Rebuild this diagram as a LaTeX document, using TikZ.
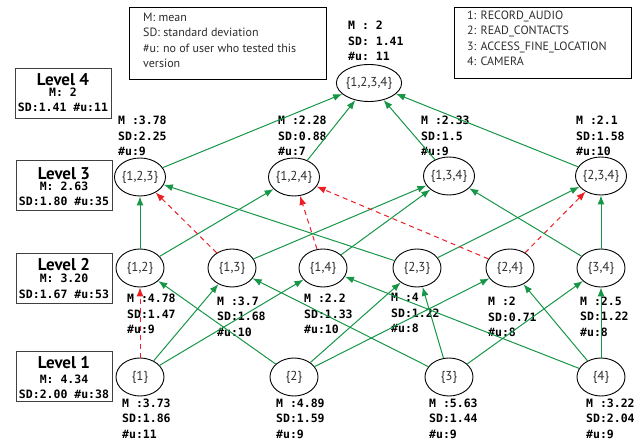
\documentclass[tikz,border=0pt]{standalone}
\usepackage{fontspec}
\setmainfont{PT Sans}
\setmonofont{DejaVu Sans Mono}
\usetikzlibrary{arrows.meta,shapes.geometric}
\definecolor{ggreen}{RGB}{22,150,70}
\definecolor{rred}{RGB}{235,30,35}
\definecolor{tgray}{RGB}{45,45,45}
\tikzset{
  setnode/.style={ellipse, draw=black, line width=0.9pt, minimum width=48pt, minimum height=38pt, inner sep=0pt, text=tgray, font=\fontsize{13}{13}\selectfont},
  topnode/.style={setnode, minimum width=65pt, minimum height=37pt},
  stats/.style={anchor=base west, yshift=-31pt, inner sep=0pt, align=left, font=\ttfamily\bfseries\fontsize{11.5}{15.5}\selectfont},
  legbox/.style={draw=black, line width=0.9pt, anchor=north west, inner sep=0pt},
  legtext/.style={anchor=base west, yshift=-46.5pt, inner sep=0pt, align=left, font=\fontsize{12}{15.5}\selectfont, text=tgray},
  lvlbox/.style={draw=black!75, line width=1.3pt, anchor=north west, inner sep=0pt, minimum width=96pt, minimum height=50pt},
  lvltitle/.style={anchor=base, inner sep=0pt, font=\bfseries\fontsize{17}{17}\selectfont},
  lvlstat/.style={anchor=base, inner sep=0pt, font=\ttfamily\bfseries\fontsize{11.5}{11.5}\selectfont},
  ge/.style={draw=ggreen, line width=1pt, -{Latex[length=9pt,width=7pt]}},
  re/.style={draw=rred, line width=1pt, dash pattern=on 5pt off 4pt, -{Latex[length=9pt,width=7pt]}}
}
\begin{document}
\begin{tikzpicture}[x=1pt,y=-1pt]
\useasboundingbox (0,0) rectangle (634,443);
% legends
\node[legbox, minimum width=197pt, minimum height=72pt] (leg1) at (129,7) {};
\node[legtext] (leg1t) at (143,21.5) {M: mean\\SD: standard deviation\\\#u: no of user who tested this\\version};
\node[legbox, minimum width=177pt, minimum height=71pt] (leg2) at (454,7) {};
\node[legtext] (leg2t) at (467,19.5) {1: RECORD\_AUDIO\\2: READ\_CONTACTS\\3: ACCESS\_FINE\_LOCATION\\4: CAMERA};
% level boxes
\node[lvlbox] (L4) at (15,68) {};
\node[lvltitle] (L4a) at (63,85.5) {Level 4};
\node[lvlstat] (L4b) at (63,97) {M: 2};
\node[lvlstat] (L4c) at (63,112) {SD:1.41 \#u:11};
\node[lvlbox] (L3) at (16,160) {};
\node[lvltitle] (L3a) at (64,179.5) {Level 3};
\node[lvlstat] (L3b) at (64,191) {M: 2.63};
\node[lvlstat] (L3c) at (64,206) {SD:1.80 \#u:35};
\node[lvlbox] (L2) at (16,253) {};
\node[lvltitle] (L2a) at (64,270.5) {Level 2};
\node[lvlstat] (L2b) at (64,283) {M: 3.20};
\node[lvlstat] (L2c) at (64,299) {SD:1.67 \#u:53};
\node[lvlbox] (L1) at (16,351) {};
\node[lvltitle] (L1a) at (64,368.5) {Level 1};
\node[lvlstat] (L1b) at (64,383) {M: 4.34};
\node[lvlstat] (L1c) at (64,398) {SD:2.00 \#u:38};
% set nodes
\node[topnode] (n1234) at (369,83) {\{1,2,3,4\}};
\node[setnode] (n123) at (140,177) {\{1,2,3\}};
\node[setnode] (n124) at (294,177) {\{1,2,4\}};
\node[setnode] (n134) at (449,176) {\{1,3,4\}};
\node[setnode] (n234) at (601,176) {\{2,3,4\}};
\node[setnode] (n12) at (140,268) {\{1,2\}};
\node[setnode] (n13) at (232,268) {\{1,3\}};
\node[setnode] (n14) at (323,268) {\{1,4\}};
\node[setnode] (n23) at (417,268) {\{2,3\}};
\node[setnode] (n24) at (510,268) {\{2,4\}};
\node[setnode] (n34) at (601,268) {\{3,4\}};
\node[setnode] (n1) at (140,377) {\{1\}};
\node[setnode] (n2) at (294,377) {\{2\}};
\node[setnode] (n3) at (449,377) {\{3\}};
\node[setnode] (n4) at (601,377) {\{4\}};
% stats
\node[stats] (s1234) at (348,30) {M : 2\\SD: 1.41\\\#u: 11};
\node[stats] (s123) at (118,125) {M :3.78\\SD:2.25\\\#u:9};
\node[stats] (s124) at (278,125) {M :2.28\\SD:0.88\\\#u:7};
\node[stats] (s134) at (421,125) {M :2.33\\SD:1.5\\\#u:9};
\node[stats] (s234) at (576,125) {M :2.1\\SD:1.58\\\#u:10};
\node[stats] (s12) at (127,303) {M :4.78\\SD:1.47\\\#u:9};
\node[stats] (s13) at (217,305) {M :3.7\\SD:1.68\\\#u:10};
\node[stats] (s14) at (304,303) {M :2.2\\SD:1.33\\\#u:10};
\node[stats] (s23) at (391,302) {M :4\\SD:1.22\\\#u:8};
\node[stats] (s24) at (488,306) {M :2\\SD:0.71\\\#u:8};
\node[stats] (s34) at (580,305) {M :2.5\\SD:1.22\\\#u:8};
\node[stats] (s1) at (122,407) {M :3.73\\SD:1.86\\\#u:11};
\node[stats] (s2) at (276,407) {M :4.89\\SD:1.59\\\#u:9};
\node[stats] (s3) at (429,407) {M :5.63\\SD:1.44\\\#u:9};
\node[stats] (s4) at (586,407) {M :3.22\\SD:2.04\\\#u:9};
% level 1 -> level 2
\draw[re] (n1) -- (n12);
\draw[ge] (n1) -- (n13);
\draw[ge] (n1) -- (n14);
\draw[ge] (n2) -- (n12);
\draw[ge] (n2) -- (n23);
\draw[ge] (n2) -- (n24);
\draw[ge] (n3) -- (n13);
\draw[ge] (n3) -- (n23);
\draw[ge] (n3) -- (n34);
\draw[ge] (n4) -- (n14);
\draw[ge] (n4) -- (n24);
\draw[ge] (n4) -- (n34);
% level 2 -> level 3
\draw[ge] (n12) -- (n123);
\draw[ge] (n12) -- (n124);
\draw[re] (n13) -- (n123);
\draw[ge] (n13) -- (n134);
\draw[re] (n14) -- (n124);
\draw[ge] (n14) -- (n134);
\draw[ge] (n23) -- (n123);
\draw[ge] (n23) -- (n234);
\draw[re] (n24) -- (n124);
\draw[re] (n24) -- (n234);
\draw[ge] (n34) -- (n134);
\draw[ge] (n34) -- (n234);
% level 3 -> level 4
\draw[ge] (n123) -- (n1234);
\draw[ge] (n124) -- (n1234);
\draw[ge] (n134) -- (n1234);
\draw[ge] (n234) -- (n1234);
\end{tikzpicture}
\end{document}
